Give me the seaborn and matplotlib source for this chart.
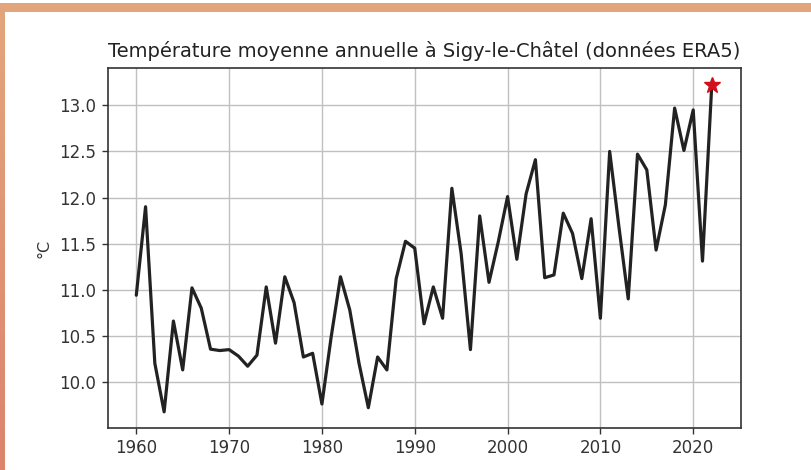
import numpy as np
import pandas as pd
import matplotlib
matplotlib.use("Agg")
import matplotlib.pyplot as plt
import seaborn as sns

years = list(range(1960, 2023))
temps = [10.94, 11.90, 10.20, 9.675, 10.66, 10.13, 11.02, 10.80, 10.355, 10.34,
         10.35, 10.28, 10.17, 10.29, 11.03, 10.42, 11.14, 10.86, 10.27, 10.31,
         9.76, 10.49, 11.14, 10.78, 10.20, 9.72, 10.27, 10.13, 11.12, 11.525,
         11.45, 10.63, 11.03, 10.69, 12.10, 11.39, 10.35, 11.80, 11.08, 11.52,
         12.01, 11.33, 12.04, 12.41, 11.13, 11.16, 11.83, 11.61, 11.12, 11.77,
         10.69, 12.50, 11.68, 10.90, 12.47, 12.30, 11.43, 11.92, 12.97, 12.51,
         12.95, 11.31, 13.22]
last_year = [2022]
last_temp = [13.22]
title = "Température moyenne annuelle à Sigy-le-Châtel (données ERA5)"
ylabel = "°C"

sns.set_style("white")
plt.rcParams['font.family'] = ['DejaVu Sans']

df = pd.DataFrame({"year": years, "temp": temps})

fig = plt.figure(figsize=(8.12, 4.70), dpi=100)
ax = fig.add_axes([0.1324, 0.0894, 0.7796, 0.765])
sns.lineplot(data=df, x="year", y="temp", ax=ax, color="#222222", linewidth=2.3)
ax.plot(last_year, last_temp, marker="*", color="#d0101a", markersize=12,
        linestyle="none", zorder=5)

ax.set_xlim(1956.9, 2025.1)
ax.set_ylim(9.50, 13.40)
ax.set_xticks([1960, 1970, 1980, 1990, 2000, 2010, 2020])
ax.set_yticks([10.0, 10.5, 11.0, 11.5, 12.0, 12.5, 13.0])
ax.set_yticklabels(["10.0", "10.5", "11.0", "11.5", "12.0", "12.5", "13.0"])
ax.grid(True, color="#c0c0c0", linewidth=1.0)
ax.tick_params(axis="both", labelsize=12, colors="#333333", length=4.5, width=1.0,
               direction="out", bottom=True, left=True)
for s in ax.spines.values():
    s.set_color("#333333")
    s.set_linewidth(1.2)
ax.set_xlabel("")
ax.set_ylabel(ylabel, fontsize=11.5, color="#333333", labelpad=6)
ax.set_title(title, fontsize=14, color="#222222", pad=8)

# decorative border (salmon frame)
H, W = 470, 812
top = np.zeros((9, W, 3))
top[:] = np.array([227, 166, 124]) / 255.0
fig.figimage(top, xo=0, yo=H - 12, zorder=10)
n = H - 3
c0 = np.array([227, 166, 124]) / 255.0
c1 = np.array([220, 132, 110]) / 255.0
t = np.linspace(0, 1, n)[:, None]
col = c0 * (1 - t) + c1 * t
left = np.repeat(col[:, None, :], 5, axis=1)
fig.figimage(left, xo=0, yo=0, zorder=10, origin="upper")

fig.savefig("out.png", dpi=100)
